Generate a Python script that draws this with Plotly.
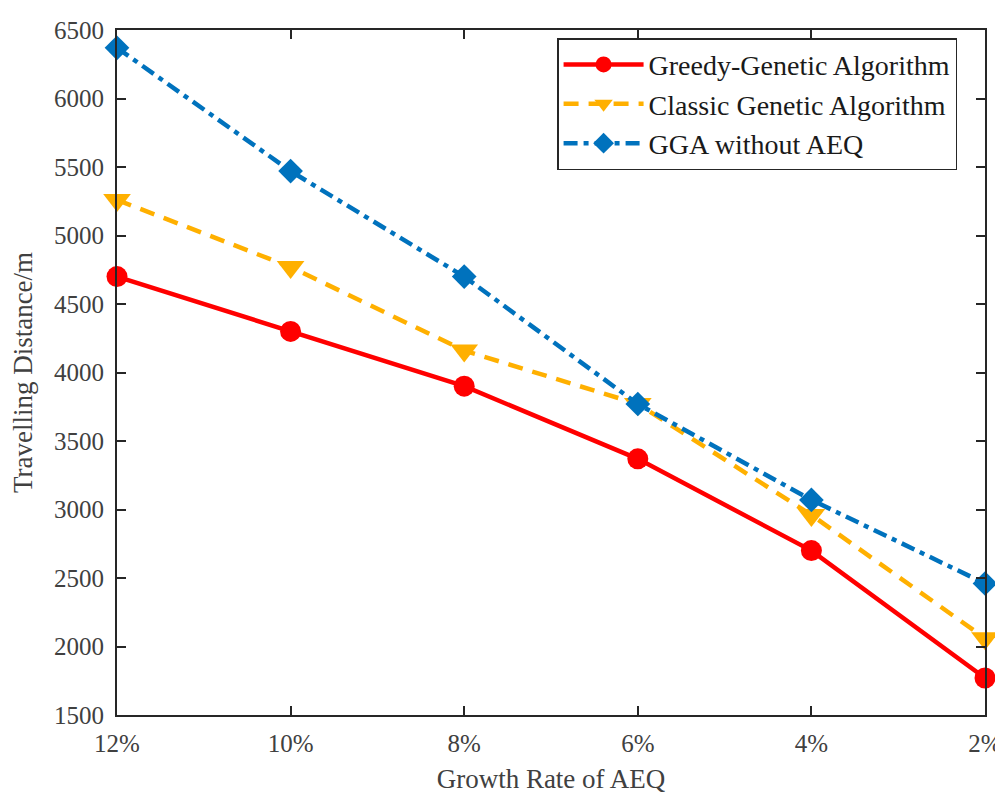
import plotly.graph_objects as go

categories = ["12%", "10%", "8%", "6%", "4%", "2%"]
greedy_ga = [4700, 4300, 3900, 3370, 2700, 1770]
classic_ga = [5260, 4770, 4160, 3770, 2960, 2060]
gga_no_aeq = [6370, 5470, 4700, 3770, 3070, 2460]
y_ticks = [1500, 2000, 2500, 3000, 3500, 4000, 4500, 5000, 5500, 6000, 6500]

xs = list(range(len(categories)))
FONT = "Liberation Serif"

fig = go.Figure()
fig.add_trace(go.Scatter(
    x=xs, y=greedy_ga, name="Greedy-Genetic Algorithm", mode="lines+markers",
    line=dict(color="#FF0000", width=4.5),
    marker=dict(symbol="circle", size=21, color="#FF0000"), cliponaxis=False))
fig.add_trace(go.Scatter(
    x=xs, y=classic_ga, name="Classic Genetic Algorithm", mode="lines+markers",
    line=dict(color="#FFB000", width=4.5, dash="15px,10px"),
    marker=dict(symbol="triangle-down", size=24, color="#FFB000"), cliponaxis=False))
fig.add_trace(go.Scatter(
    x=xs, y=gga_no_aeq, name="GGA without AEQ", mode="lines+markers",
    line=dict(color="#0072BD", width=4.5, dash="14px,6px,5px,6px"),
    marker=dict(symbol="diamond", size=19, color="#0072BD"), cliponaxis=False))

axis_common = dict(
    showline=True, linecolor="#262626", linewidth=2, mirror="ticks",
    ticks="inside", ticklen=9, tickwidth=2, tickcolor="#262626",
    showgrid=False, zeroline=False, automargin=False,
    tickfont=dict(family=FONT, size=25, color="#404040"),
)

fig.update_layout(
    width=995, height=786,
    paper_bgcolor="white", plot_bgcolor="white",
    margin=dict(l=109, r=18, t=22, b=79),
    font=dict(family=FONT, size=25, color="#404040"),
    xaxis=dict(**axis_common, tickmode="array", tickvals=xs, ticktext=categories,
               range=[0, len(categories) - 1], ticklabelstandoff=5,
               title=dict(text="Growth Rate of AEQ", font=dict(family=FONT, size=27, color="#404040"), standoff=14)),
    yaxis=dict(**axis_common, tickmode="array", tickvals=y_ticks,
               range=[1500, 6500], ticklabelstandoff=6,
               title=dict(text="Travelling Distance/m", font=dict(family=FONT, size=27, color="#404040"), standoff=22)),
    legend=dict(x=0.507, y=0.988, xanchor="left", yanchor="top",
                bgcolor="white", bordercolor="#262626", borderwidth=1.5,
                font=dict(family=FONT, size=28, color="#1a1a1a"),
                itemwidth=80, tracegroupgap=0),
    showlegend=True,
)

fig.write_html("out.html")
